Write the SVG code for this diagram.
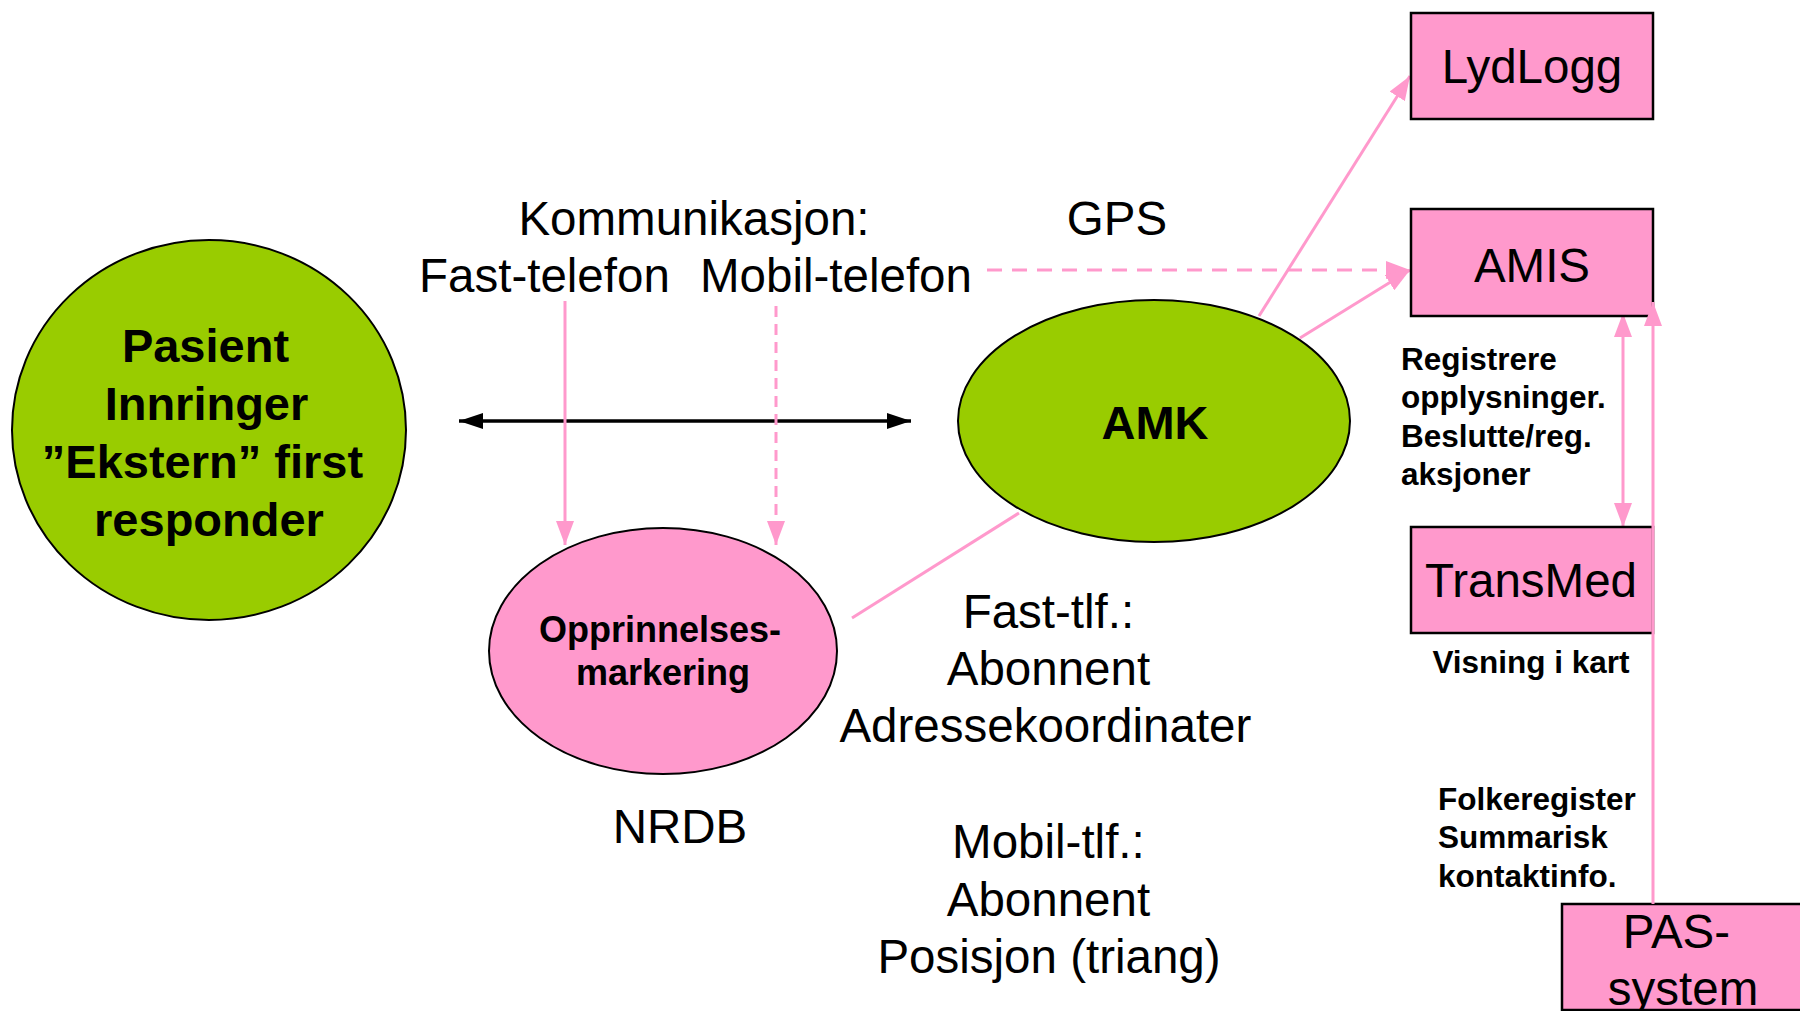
<svg xmlns="http://www.w3.org/2000/svg" width="1800" height="1011" viewBox="0 0 1800 1011">
<defs>
<style>
.t{font-family:"Liberation Sans",Arial,sans-serif;fill:#000}
.r47{font-size:47.5px}
.b{font-weight:bold}
.box{fill:#FF99CC;stroke:#000;stroke-width:2.5}
.gel{fill:#99CC00;stroke:#000;stroke-width:2}
.pel{fill:#FF99CC;stroke:#000;stroke-width:2}
.pl{stroke:#FF99CC;stroke-width:3;fill:none}
.dash{stroke-dasharray:15 10}
.vdash{stroke-dasharray:11 7}
</style>
<marker id="pa" markerUnits="userSpaceOnUse" markerWidth="26" markerHeight="18" refX="24" refY="9" orient="auto">
<path d="M0,0 L24,9 L0,18 Z" fill="#FF99CC"/>
</marker>
<marker id="pas" markerUnits="userSpaceOnUse" markerWidth="26" markerHeight="18" refX="24" refY="9" orient="auto-start-reverse">
<path d="M0,0 L24,9 L0,18 Z" fill="#FF99CC"/>
</marker>
<marker id="ba" markerUnits="userSpaceOnUse" markerWidth="26" markerHeight="16" refX="24" refY="8" orient="auto-start-reverse">
<path d="M0,0 L24,8 L0,16 Z" fill="#000"/>
</marker>
</defs>
<rect width="1800" height="1011" fill="#fff"/>

<g id="connectors">
<line x1="459" y1="421" x2="911" y2="421" stroke="#000" stroke-width="3.5" marker-start="url(#ba)" marker-end="url(#ba)"/>
<line class="pl" x1="565" y1="301" x2="565" y2="545" marker-end="url(#pa)"/>
<line class="pl vdash" x1="776" y1="306" x2="776" y2="545" marker-end="url(#pa)"/>
<line class="pl dash" x1="987" y1="270" x2="1410" y2="270" marker-end="url(#pa)"/>
<line class="pl" x1="1259" y1="316" x2="1410" y2="76" marker-end="url(#pa)"/>
<line class="pl" x1="1300" y1="338" x2="1410" y2="270" marker-end="url(#pa)"/>
<line class="pl" x1="852" y1="618" x2="1019" y2="513"/>
<line class="pl" x1="1623" y1="313" x2="1623" y2="527" marker-start="url(#pas)" marker-end="url(#pas)"/>
</g>

<g id="pasient">
<ellipse class="gel" cx="209" cy="430" rx="197" ry="190"/>
<text class="t b" font-size="47" text-anchor="middle">
<tspan x="212" y="362">Pasient</tspan>
<tspan x="213" y="420">Innringer</tspan>
<tspan x="209" y="478">”Ekstern” first</tspan>
<tspan x="209" y="536">responder</tspan>
</text>
</g>

<g id="amk">
<ellipse class="gel" cx="1154" cy="421" rx="196" ry="121"/>
<text class="t b" font-size="47" text-anchor="middle" x="1155" y="439">AMK</text>
</g>

<g id="opprinnelse">
<ellipse class="pel" cx="663" cy="651" rx="174" ry="123"/>
<text class="t b" font-size="36" text-anchor="middle">
<tspan x="665" y="642">Opprinnelses-</tspan>
<tspan x="663" y="685">markering</tspan>
</text>
</g>

<g id="lydlogg">
<rect class="box" x="1411" y="13" width="242" height="106"/>
<text class="t r47" text-anchor="middle" x="1532" y="83">LydLogg</text>
</g>

<g id="amis">
<rect class="box" x="1411" y="209" width="242" height="107"/>
<text class="t r47" text-anchor="middle" x="1532" y="282">AMIS</text>
</g>

<g id="transmed">
<rect class="box" x="1411" y="527" width="242" height="106"/>
<text class="t r47" text-anchor="middle" x="1531" y="597">TransMed</text>
</g>

<g id="pas">
<rect class="box" x="1562" y="904" width="245" height="106"/>
<text class="t r47" text-anchor="middle">
<tspan x="1683" y="948">PAS-</tspan>
<tspan x="1683" y="1005">system</tspan>
</text>
</g>

<line class="pl" x1="1653" y1="904" x2="1653" y2="302" marker-end="url(#pa)"/>

<g id="labels">
<text class="t r47" text-anchor="middle" x="694" y="235">Kommunikasjon:</text>
<text class="t r47" x="419" y="292">Fast-telefon</text>
<text class="t r47" x="700" y="292">Mobil-telefon</text>
<text class="t r47" text-anchor="middle" x="1117" y="235">GPS</text>
<text class="t r47" text-anchor="middle" x="680" y="843">NRDB</text>
<text class="t r47" text-anchor="middle">
<tspan x="1055" y="628">Fast-tlf.:</tspan>
<tspan x="1055" y="685">Abonnent</tspan>
<tspan x="1052" y="742">Adressekoordinater</tspan>
<tspan x="1055" y="858">Mobil-tlf.:</tspan>
<tspan x="1055" y="916">Abonnent</tspan>
<tspan x="1049" y="973">Posisjon (triang)</tspan>
</text>
<text class="t b" font-size="31.5">
<tspan x="1401" y="370">Registrere</tspan>
<tspan x="1401" y="408">opplysninger.</tspan>
<tspan x="1401" y="447">Beslutte/reg.</tspan>
<tspan x="1401" y="485">aksjoner</tspan>
</text>
<text class="t b" font-size="31.5" text-anchor="middle" x="1531" y="673">Visning i kart</text>
<text class="t b" font-size="31.5">
<tspan x="1438" y="810">Folkeregister</tspan>
<tspan x="1438" y="848">Summarisk</tspan>
<tspan x="1438" y="887">kontaktinfo.</tspan>
</text>
</g>
</svg>
